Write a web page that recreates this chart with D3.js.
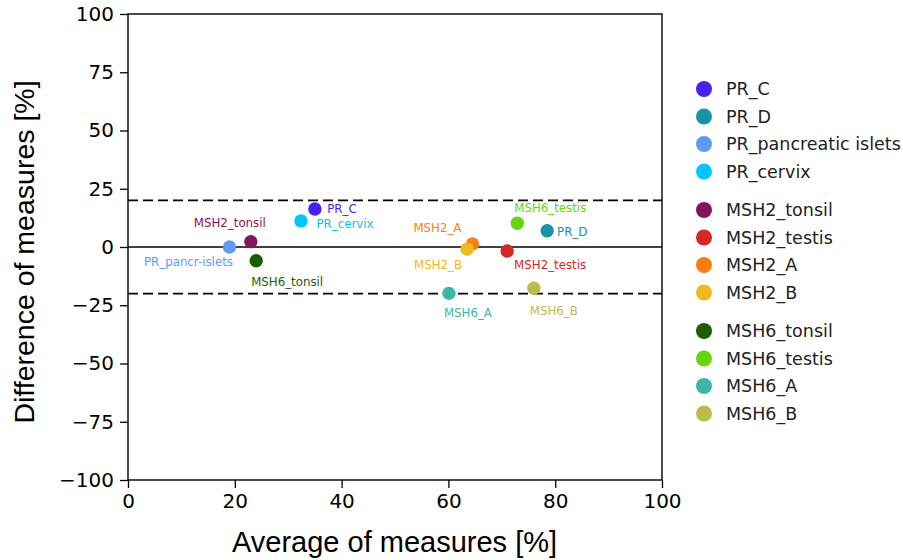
<!DOCTYPE html>
<html>
<head>
<meta charset="utf-8">
<script src="https://cdn.jsdelivr.net/npm/d3@7"></script>
<style>
  body { margin: 0; background: #fff; }
</style>
</head>
<body>
<div id="chart"></div>
<script>
// data
var names = ["PR_C", "PR_D", "PR_pancreatic islets", "PR_cervix",
             "MSH2_tonsil", "MSH2_testis", "MSH2_A", "MSH2_B",
             "MSH6_tonsil", "MSH6_testis", "MSH6_A", "MSH6_B"];
var shortLabels = ["PR_C", "PR_D", "PR_pancr-islets", "PR_cervix",
                   "MSH2_tonsil", "MSH2_testis", "MSH2_A", "MSH2_B",
                   "MSH6_tonsil", "MSH6_testis", "MSH6_A", "MSH6_B"];
var groups = [0, 0, 0, 0, 1, 1, 1, 1, 2, 2, 2, 2];
var averages = [35.0, 78.5, 19.0, 32.4, 23.0, 71.0, 64.5, 63.5, 24.0, 72.9, 60.1, 76.0];
var differences = [16.3, 7.0, 0.0, 11.2, 2.3, -1.7, 1.3, -0.9, -5.9, 10.2, -19.9, -17.7];
var xTicks = [0, 20, 40, 60, 80, 100];
var yTicks = [100, 75, 50, 25, 0, -25, -50, -75, -100];
var limits = [20, -20];

var colors = ["#4a1ff2", "#1993aa", "#5e9bf2", "#00c6fd",
              "#85155a", "#d62728", "#ff7f0e", "#f0b91c",
              "#1d5d05", "#66d60c", "#3db6a7", "#bcbc4a"];

// where each annotation sits relative to its dot (px)
var labelOffsets = [[27, 0], [25, 1], [-41, 15], [44, 3],
                    [-21, -19], [43, 14], [-35, -16], [-29, 16],
                    [31, 21], [33, -15], [19, 20], [20, 23]];

var margin = {top: 14, right: 241, bottom: 80, left: 128},
    width = 903 - margin.left - margin.right,
    height = 560 - margin.top - margin.bottom;

var svg = d3.select("#chart")
    .append("svg")
    .attr("width", 903)
    .attr("height", 560)
    .append("g")
    .attr("transform", "translate(" + margin.left + "," + margin.top + ")");

var x = d3.scaleLinear().domain([0, 100]).range([0, width]);
var y = d3.scaleLinear().domain([-100, 100]).range([height, 0]);

var tickFont = "'DejaVu Sans', sans-serif";
var titleFont = "'Liberation Sans', Arial, sans-serif";
var labelFont = "'DejaVu Sans', sans-serif";

// axes
var xAxis = svg.append("g")
    .attr("transform", "translate(0," + height + ")")
    .call(d3.axisBottom(x).tickValues(xTicks).tickSize(8).tickPadding(6));
var yAxis = svg.append("g")
    .call(d3.axisLeft(y).tickValues(yTicks).tickSize(8).tickPadding(6)
          .tickFormat(function(d) { return d < 0 ? "\u2212" + Math.abs(d) : d; }));
[xAxis, yAxis].forEach(function(a) {
    a.select(".domain").remove();
    a.selectAll("line").attr("stroke", "#000").attr("stroke-width", 1.3);
    a.selectAll("text").attr("fill", "#000")
        .style("font-family", tickFont).style("font-size", "20px");
});

// frame
svg.append("rect")
    .attr("width", width)
    .attr("height", height)
    .attr("fill", "none")
    .attr("stroke", "#000")
    .attr("stroke-width", 1.4);

// zero line and limits of agreement
svg.append("line")
    .attr("x1", 0).attr("x2", width)
    .attr("y1", y(0)).attr("y2", y(0))
    .attr("stroke", "#000").attr("stroke-width", 1.3);
svg.selectAll(".limit")
    .data(limits)
    .enter().append("line")
    .attr("class", "limit")
    .attr("x1", 0).attr("x2", width)
    .attr("y1", function(d) { return y(d); })
    .attr("y2", function(d) { return y(d); })
    .attr("stroke", "#000")
    .attr("stroke-width", 1.6)
    .attr("stroke-dasharray", "10,5");

// points
svg.selectAll(".dot")
    .data(names)
    .enter().append("circle")
    .attr("class", "dot")
    .attr("cx", function(d, i) { return x(averages[i]); })
    .attr("cy", function(d, i) { return y(differences[i]); })
    .attr("r", 6.7)
    .attr("fill", function(d, i) { return colors[i]; });

// annotations
svg.selectAll(".ann")
    .data(shortLabels)
    .enter().append("text")
    .attr("class", "ann")
    .attr("x", function(d, i) { return x(averages[i]) + labelOffsets[i][0]; })
    .attr("y", function(d, i) { return y(differences[i]) + labelOffsets[i][1]; })
    .attr("dy", "0.35em")
    .attr("text-anchor", "middle")
    .style("font-family", labelFont)
    .style("font-size", "11.8px")
    .attr("fill", function(d, i) { return colors[i]; })
    .text(function(d) { return d; });

// axis titles
svg.append("text")
    .attr("x", (229 + 560) / 2 - margin.left)
    .attr("y", 552 - margin.top)
    .attr("text-anchor", "middle")
    .style("font-family", titleFont)
    .style("font-size", "29px")
    .text("Average of measures [%]");
svg.append("text")
    .attr("transform", "rotate(-90)")
    .attr("x", -height / 2 - 5)
    .attr("y", 34 - margin.left)
    .attr("text-anchor", "middle")
    .style("font-family", titleFont)
    .style("font-size", "28.5px")
    .text("Difference of measures [%]");

// legend
var legend = svg.selectAll(".legend")
    .data(names)
    .enter().append("g")
    .attr("class", "legend")
    .attr("transform", function(d, i) {
        var vy = 75 + i * 27.5 + groups[i] * 11;
        return "translate(" + (width + 42) + "," + vy + ")";
    });
legend.append("circle")
    .attr("r", 8)
    .attr("fill", function(d, i) { return colors[i]; });
legend.append("text")
    .attr("x", 22)
    .attr("dy", "0.35em")
    .style("font-family", labelFont)
    .style("font-size", "17.5px")
    .attr("fill", "#222")
    .text(function(d) { return d; });
</script>
</body>
</html>
